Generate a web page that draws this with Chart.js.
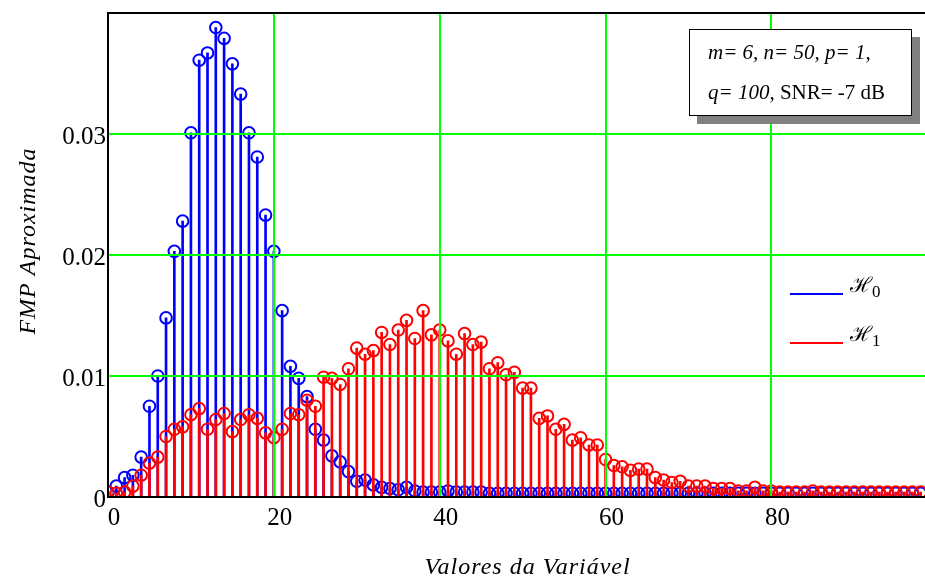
<!DOCTYPE html>
<html lang="pt">
<head>
    <meta charset="utf-8">
    <script src="https://cdn.jsdelivr.net/npm/chart.js"></script>
    <style>
        html, body {
            margin: 0;
            padding: 0;
            overflow: hidden;
            background: #ffffff;
        }
        /* the original plot runs a little past the right edge of the window */
        #wrap {
            position: relative;
            width: 955px;
            height: 585px;
        }
        #note {
            position: absolute;
            left: 689px;
            top: 29px;
            width: 223px;
            height: 87px;
            box-sizing: border-box;
            border: 1.5px solid #000;
            background: #fff;
            box-shadow: 8px 8px 0 #808080;
            font-family: "Liberation Serif", serif;
            font-size: 21px;
            line-height: 40px;
            padding: 2px 0 0 18px;
            color: #000;
        }
        .key-line {
            position: absolute;
            left: 790px;
            width: 53px;
            height: 1.5px;
        }
        .key-text {
            position: absolute;
            left: 850px;
            font-family: "DejaVu Serif", serif;
            font-size: 21px;
            line-height: 24px;
            color: #000;
        }
        .key-text sub {
            font-family: "Liberation Serif", serif;
            font-size: 17px;
        }
    </style>
</head>
<body>
    <div id="wrap">
        <canvas id="fmpChart"></canvas>
        <div id="note">
            <div><i>m= 6, n= 50, p= 1,</i></div>
            <div><i>q= 100,</i> SNR= -7 dB</div>
        </div>
        <div class="key-line" style="top:293px;background:#0000ff"></div>
        <div class="key-text" style="top:273px">&#8459;<sub>0</sub></div>
        <div class="key-line" style="top:342px;background:#ff0000"></div>
        <div class="key-text" style="top:322px">&#8459;<sub>1</sub></div>
    </div>
    <script>
        // variable values (x axis)
        const xValues = [
            0, 1, 2, 3, 4, 5, 6, 7, 8, 9,
            10, 11, 12, 13, 14, 15, 16, 17, 18, 19,
            20, 21, 22, 23, 24, 25, 26, 27, 28, 29,
            30, 31, 32, 33, 34, 35, 36, 37, 38, 39,
            40, 41, 42, 43, 44, 45, 46, 47, 48, 49,
            50, 51, 52, 53, 54, 55, 56, 57, 58, 59,
            60, 61, 62, 63, 64, 65, 66, 67, 68, 69,
            70, 71, 72, 73, 74, 75, 76, 77, 78, 79,
            80, 81, 82, 83, 84, 85, 86, 87, 88, 89,
            90, 91, 92, 93, 94, 95, 96, 97, 98
        ];
        // approximate PMF under H0 (blue)
        const pmfH0 = [
            0.0004, 0.0009, 0.0016, 0.0018, 0.0033, 0.0075, 0.0100, 0.0148, 0.0203, 0.0228,
            0.0301, 0.0361, 0.0367, 0.0388, 0.0379, 0.0358, 0.0333, 0.0301, 0.0281, 0.0233,
            0.0203, 0.0154, 0.0108, 0.0098, 0.0083, 0.0056, 0.0047, 0.0034, 0.0029, 0.0021,
            0.0013, 0.0014, 0.0010, 0.0008, 0.0007, 0.0006, 0.0008, 0.0005, 0.0004, 0.0004,
            0.0004, 0.0005, 0.0004, 0.0004, 0.0004, 0.0004, 0.0003, 0.0003, 0.0003, 0.0003,
            0.0003, 0.0003, 0.0003, 0.0003, 0.0003, 0.0003, 0.0003, 0.0003, 0.0003, 0.0003,
            0.0003, 0.0003, 0.0003, 0.0003, 0.0003, 0.0003, 0.0003, 0.0003, 0.0003, 0.0003,
            0.0003, 0.0003, 0.0003, 0.0003, 0.0003, 0.0003, 0.0003, 0.0003, 0.0003, 0.0003,
            0.0003, 0.0003, 0.0003, 0.0003, 0.0003, 0.0003, 0.0003, 0.0003, 0.0003, 0.0003,
            0.0003, 0.0003, 0.0003, 0.0003, 0.0003, 0.0003, 0.0003, 0.0003, 0.0003
        ];
        // approximate PMF under H1 (red)
        const pmfH1 = [
            0.0004, 0.0003, 0.0004, 0.0009, 0.0018, 0.0028, 0.0033, 0.0050, 0.0056, 0.0058,
            0.0068, 0.0073, 0.0056, 0.0064, 0.0069, 0.0054, 0.0064, 0.0068, 0.0065, 0.0053,
            0.0049, 0.0056, 0.0069, 0.0068, 0.0080, 0.0075, 0.0099, 0.0098, 0.0093, 0.0106,
            0.0123, 0.0118, 0.0121, 0.0136, 0.0126, 0.0138, 0.0146, 0.0131, 0.0154, 0.0134,
            0.0138, 0.0129, 0.0118, 0.0135, 0.0126, 0.0128, 0.0106, 0.0111, 0.0101, 0.0103,
            0.0090, 0.0090, 0.0065, 0.0067, 0.0056, 0.0060, 0.0047, 0.0049, 0.0043, 0.0043,
            0.0031, 0.0026, 0.0025, 0.0022, 0.0023, 0.0023, 0.0016, 0.0014, 0.0012, 0.0013,
            0.0009, 0.0009, 0.0009, 0.0007, 0.0007, 0.0007, 0.0005, 0.0005, 0.0008, 0.0005,
            0.0005, 0.0004, 0.0004, 0.0004, 0.0004, 0.0005, 0.0004, 0.0004, 0.0004, 0.0004,
            0.0004, 0.0004, 0.0004, 0.0004, 0.0004, 0.0004, 0.0004, 0.0004, 0.0004
        ];
        const xTicks = [0, 20, 40, 60, 80];
        const yTicks = [0, 0.01, 0.02, 0.03, 0.04];
        const yTickLabels = ['0', '0.01', '0.02', '0.03', ''];

        const blue = '#0000ff';
        const red = '#ff0000';
        const green = '#00ff00';

        function toPoints(values) {
            return xValues.map((x, i) => ({ x: x, y: values[i] }));
        }

        // Mathcad titles are a bit letter-spaced; titles are drawn with the grid layer (z=1)
        const spacedTitles = {
            id: 'spacedTitles',
            afterDatasetsDraw(chart) { chart.ctx.letterSpacing = '1px'; },
            afterDraw(chart) { chart.ctx.letterSpacing = '0px'; }
        };

        const tickFont = { family: 'Liberation Serif', size: 25 };
        const titleFont = { family: 'Liberation Serif', size: 24, style: 'italic' };

        function markers(values, color, order) {
            return {
                type: 'line',
                data: toPoints(values),
                showLine: false,
                pointStyle: 'circle',
                pointRadius: 5.8,
                pointBorderWidth: 2,
                borderColor: color,
                pointBorderColor: color,
                pointBackgroundColor: 'rgba(0,0,0,0)',
                order: order
            };
        }

        function stems(values, color, order) {
            return {
                data: toPoints(values),
                backgroundColor: color,
                barThickness: 2,
                grouped: false,
                order: order
            };
        }

        new Chart(document.getElementById('fmpChart'), {
            type: 'bar',
            data: {
                datasets: [
                    markers(pmfH1, red, 1),
                    stems(pmfH1, red, 2),
                    markers(pmfH0, blue, 3),
                    stems(pmfH0, blue, 4)
                ]
            },
            options: {
                responsive: true,
                maintainAspectRatio: false,
                animation: false,
                events: [],
                layout: { padding: { top: 13, right: 0, bottom: 0, left: 0 } },
                plugins: {
                    legend: { display: false },
                    tooltip: { enabled: false }
                },
                scales: {
                    x: {
                        type: 'linear',
                        min: 0,
                        max: 101.2,
                        offset: false,
                        afterBuildTicks(scale) { scale.ticks = xTicks.map(v => ({ value: v })); },
                        afterFit(scale) {
                            scale.height = 88;
                            scale.paddingLeft = 0;
                            scale.paddingRight = 0;
                        },
                        grid: {
                            z: 1,
                            offset: false,
                            lineWidth: 2,
                            drawTicks: false,
                            color: ctx => (ctx.tick && ctx.tick.value === 0) ? 'rgba(0,0,0,0)' : green
                        },
                        border: { display: true, color: '#000', width: 2, z: 2 },
                        ticks: {
                            font: tickFont,
                            color: '#000',
                            padding: 6,
                            labelOffset: 6,
                            maxRotation: 0,
                            callback: v => String(v)
                        },
                        title: {
                            display: true,
                            text: 'Valores da Variável',
                            font: titleFont,
                            color: '#000',
                            padding: { top: 0, bottom: 3 }
                        }
                    },
                    y: {
                        min: 0,
                        max: 0.04,
                        afterBuildTicks(scale) { scale.ticks = yTicks.map(v => ({ value: v })); },
                        afterFit(scale) {
                            scale.width = 108;
                            scale.paddingTop = 0;
                            scale.paddingBottom = 0;
                        },
                        grid: {
                            z: 1,
                            lineWidth: 2,
                            drawTicks: false,
                            color: ctx => {
                                if (!ctx.tick) return green;
                                if (ctx.tick.value === 0) return 'rgba(0,0,0,0)';
                                if (ctx.tick.value === 0.04) return '#000';
                                return green;
                            }
                        },
                        border: { display: true, color: '#000', width: 2, z: 2 },
                        ticks: {
                            font: tickFont,
                            color: '#000',
                            padding: 2,
                            labelOffset: 3,
                            callback: (v, i) => yTickLabels[i]
                        },
                        title: {
                            display: true,
                            // leading spaces lift the title a little above the plot's middle, as in the original
                            text: '    FMP Aproximada',
                            font: titleFont,
                            color: '#000',
                            padding: { top: 14, bottom: 0 }
                        }
                    }
                }
            },
            plugins: [spacedTitles]
        });
    </script>
</body>
</html>
